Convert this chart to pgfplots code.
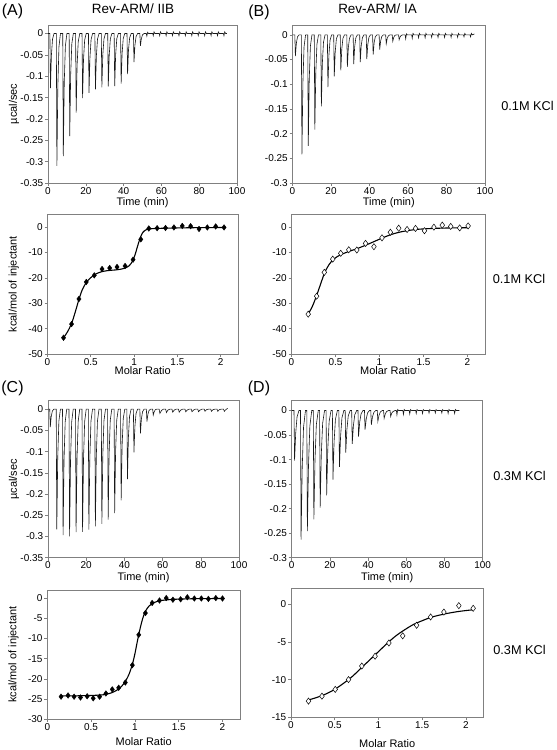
\documentclass[border=0pt]{standalone}
\usepackage{fontspec}
\setmainfont{Liberation Sans}
\usepackage{pgfplots}
\pgfplotsset{compat=1.18}
\definecolor{framegray}{gray}{0.5}
\pgfplotsset{
  base/.style={scale only axis, axis line style={framegray, line width=0.8bp},
    tick style={framegray, line width=0.6bp}, tick align=outside, tick pos=left,
    major tick length=3bp, /pgf/number format/assume math mode=true,
    tick label style={font=\fontsize{10}{11}\selectfont, inner sep=0.6bp},
    xticklabel style={yshift=-0.5bp}, yticklabel style={xshift=-1bp},
    label style={font=\fontsize{11}{12}\selectfont, inner sep=0bp}, scaled ticks=false},
  thermo/.style={base, xmin=0, xmax=100, xtick={0,20,40,60,80,100},
    xlabel={Time (min)}, xlabel style={at={(axis description cs:0.5,0)}, anchor=center, yshift=-20bp}},
  iso/.style={base, xmin=0, xmax=2.2, xtick={0,0.5,1,1.5,2}, xticklabels={0,0.5,1,1.5,2},
    xlabel={Molar Ratio}},
  trace/.style={black!90, line width=0.6bp},
  fit/.style={black, line width=1.1bp, smooth, tension=0.5},
  fullmark/.style={only marks, mark=diamond*, mark size=2.8bp, black},
  openmark/.style={only marks, mark=diamond*, mark size=3.1bp, mark options={fill=white, draw=black, line width=0.5bp}},
}
\begin{document}
\begin{tikzpicture}
\path[use as bounding box] (0,0) rectangle (557bp,-750bp);

% ---------------- (A) top: thermogram
\begin{axis}[thermo, at={(48bp,-25bp)}, anchor=north west, width=189bp, height=158bp,
  ymin=-0.35, ymax=0.02, ytick={-0.35,-0.3,-0.25,-0.2,-0.15,-0.1,-0.05,0},
  yticklabels={-0.35,-0.3,-0.25,-0.2,-0.15,-0.1,-0.05,0},
  ylabel={µcal/sec}, ylabel style={at={(axis description cs:-0.18,0.5)}, anchor=center}]
\addplot[trace] coordinates {
(0,0)
(1.0,0)(1.3,-0.128)(1.8,-0.051)(2.4,-0.013)(3.2,0)
(4.4,0)(4.7,-0.310)(5.2,-0.124)(5.8,-0.031)(6.6,0)
(7.8,0)(8.1,-0.287)(8.6,-0.115)(9.2,-0.029)(10.0,0)
(11.2,0)(11.5,-0.240)(12.0,-0.096)(12.6,-0.024)(13.4,0)
(14.6,0)(14.9,-0.185)(15.4,-0.074)(16.0,-0.019)(16.8,0)
(18.0,0)(18.3,-0.151)(18.8,-0.060)(19.4,-0.015)(20.2,0)
(21.4,0)(21.7,-0.139)(22.2,-0.056)(22.8,-0.014)(23.6,0)
(24.8,0)(25.1,-0.131)(25.6,-0.052)(26.2,-0.013)(27.0,0)
(28.2,0)(28.5,-0.126)(29.0,-0.050)(29.6,-0.013)(30.4,0)
(31.6,0)(31.9,-0.124)(32.4,-0.050)(33.0,-0.012)(33.8,0)
(35.0,0)(35.3,-0.123)(35.8,-0.049)(36.4,-0.012)(37.2,0)
(38.4,0)(38.7,-0.117)(39.2,-0.047)(39.8,-0.012)(40.6,0)
(41.8,0)(42.1,-0.095)(42.6,-0.038)(43.2,-0.010)(44.0,0)
(45.2,0)(45.5,-0.067)(46.0,-0.027)(46.6,-0.007)(47.4,0)
(48.6,0)(48.9,-0.029)(49.4,-0.012)(50.0,-0.003)(50.8,0)
(52.0,0)(52.3,-0.006)(52.7,0.003)(53.2,0)
(55.4,0)(55.7,-0.005)(56.1,0.004)(56.6,0)
(58.8,0)(59.1,-0.005)(59.5,0.004)(60.0,0)
(62.2,0)(62.5,-0.005)(62.9,0.004)(63.4,0)
(65.6,0)(65.9,-0.005)(66.3,0.004)(66.8,0)
(69.0,0)(69.3,-0.005)(69.7,0.004)(70.2,0)
(72.4,0)(72.7,-0.005)(73.1,0.004)(73.6,0)
(75.8,0)(76.1,-0.005)(76.5,0.004)(77.0,0)
(79.2,0)(79.5,-0.005)(79.9,0.004)(80.4,0)
(82.6,0)(82.9,-0.005)(83.3,0.004)(83.8,0)
(86.0,0)(86.3,-0.005)(86.7,0.004)(87.2,0)
(89.4,0)(89.7,-0.005)(90.1,0.004)(90.6,0)
(92.8,0)(93.1,-0.005)(93.5,0.004)(94.0,0)(94.6,0)
};
\end{axis}

% ---------------- (B) top: thermogram
\begin{axis}[thermo, at={(292.5bp,-25bp)}, anchor=north west, width=192.5bp, height=158bp,
  ymin=-0.3, ymax=0.02, ytick={-0.3,-0.25,-0.2,-0.15,-0.1,-0.05,0},
  yticklabels={-0.3,-0.25,-0.2,-0.15,-0.1,-0.05,0}]
\addplot[trace] coordinates {
(0,0)
(1.2,0)(1.5,-0.043)(2.0,-0.017)(2.6,-0.004)(3.4,0)
(4.6,0)(4.9,-0.242)(5.4,-0.097)(6.0,-0.024)(6.8,0)
(7.9,0)(8.2,-0.225)(8.7,-0.090)(9.3,-0.023)(10.1,0)
(11.3,0)(11.6,-0.192)(12.1,-0.077)(12.7,-0.019)(13.5,0)
(14.7,0)(15.0,-0.145)(15.5,-0.058)(16.1,-0.015)(16.9,0)
(18.1,0)(18.4,-0.106)(18.9,-0.042)(19.5,-0.011)(20.3,0)
(21.4,0)(21.7,-0.084)(22.2,-0.034)(22.8,-0.008)(23.6,0)
(24.8,0)(25.1,-0.072)(25.6,-0.029)(26.2,-0.007)(27.0,0)
(28.2,0)(28.5,-0.065)(29.0,-0.026)(29.6,-0.007)(30.4,0)
(31.5,0)(31.8,-0.059)(32.3,-0.024)(32.9,-0.006)(33.7,0)
(34.9,0)(35.2,-0.055)(35.7,-0.022)(36.3,-0.006)(37.1,0)
(38.3,0)(38.6,-0.049)(39.1,-0.020)(39.7,-0.005)(40.5,0)
(41.6,0)(41.9,-0.040)(42.4,-0.016)(43.0,-0.004)(43.8,0)
(45.0,0)(45.3,-0.030)(45.8,-0.012)(46.4,-0.003)(47.2,0)
(48.4,0)(48.7,-0.018)(49.2,-0.007)(49.8,-0.002)(50.6,0)
(51.8,0)(52.1,-0.013)(52.6,-0.005)(53.2,-0.001)(54.0,0)
(55.1,0)(55.4,-0.010)(55.9,-0.004)(56.5,-0.001)(57.3,0)
(58.5,0)(58.8,-0.008)(59.2,0.002)(59.7,0)
(61.9,0)(62.2,-0.007)(62.6,0.003)(63.1,0)
(65.2,0)(65.5,-0.006)(65.9,0.003)(66.4,0)
(68.6,0)(68.9,-0.006)(69.3,0.003)(69.8,0)
(72.0,0)(72.3,-0.005)(72.7,0.003)(73.2,0)
(75.3,0)(75.6,-0.005)(76.0,0.003)(76.5,0)
(78.7,0)(79.0,-0.005)(79.4,0.003)(79.9,0)
(82.1,0)(82.4,-0.005)(82.8,0.003)(83.3,0)
(85.5,0)(85.8,-0.005)(86.2,0.003)(86.7,0)
(88.8,0)(89.1,-0.004)(89.5,0.003)(90.0,0)
(92.2,0)(92.5,-0.004)(92.9,0.003)(93.4,0)(94.5,0.002)
};
\end{axis}

% ---------------- (A) bottom: isotherm
\begin{axis}[iso, at={(47.5bp,-214.5bp)}, anchor=north west, width=190.5bp, height=139.5bp,
  ymin=-50, ymax=5, ytick={-50,-40,-30,-20,-10,0},
  ylabel={kcal/mol of injectant}, ylabel style={at={(axis description cs:-0.177,0.5)}, anchor=center},
  xlabel style={at={(axis description cs:0.5,0)}, anchor=center, yshift=-16.5bp}]
\addplot[fit] coordinates {
(0.185,-43.6)(0.23,-41.3)(0.278,-38)(0.32,-33.5)(0.363,-28.5)(0.40,-24.8)(0.448,-21.8)
(0.50,-19.9)(0.55,-18.6)(0.62,-17.6)(0.70,-17.1)(0.80,-16.8)(0.88,-16.3)(0.94,-15.3)
(0.98,-13.5)(1.01,-11)(1.04,-7.5)(1.07,-4.3)(1.10,-2.1)(1.14,-1.0)(1.2,-0.6)(1.3,-0.45)
(1.5,-0.3)(1.7,-0.2)(1.9,-0.15)(2.04,-0.1)
};
\addplot[fullmark] coordinates {
(0.185,-43.6)(0.278,-38.2)(0.363,-28.3)(0.448,-21.6)(0.54,-19.0)(0.63,-16.5)(0.718,-16.1)
(0.803,-15.7)(0.896,-15.3)(0.988,-12.8)(1.077,-4.8)(1.17,-0.5)(1.266,-0.4)(1.363,-0.3)
(1.46,-0.1)(1.556,0.5)(1.653,0.4)(1.75,-0.7)(1.846,-0.1)(1.942,0.3)(2.039,-0.1)
};
\end{axis}

% ---------------- (B) bottom: isotherm
\begin{axis}[iso, at={(291.5bp,-214.5bp)}, anchor=north west, width=193.5bp, height=139.5bp,
  ymin=-50, ymax=5, ytick={-50,-40,-30,-20,-10,0},
  xlabel style={at={(axis description cs:0.5,0)}, anchor=center, yshift=-16.5bp}]
\addplot[fit] coordinates {
(0.19,-34.3)(0.24,-31)(0.29,-26.5)(0.34,-21.5)(0.38,-17.7)(0.43,-14.6)(0.48,-12.6)
(0.55,-11.0)(0.65,-9.6)(0.75,-8.4)(0.85,-7.0)(0.95,-5.5)(1.05,-4.0)(1.15,-2.7)
(1.25,-1.8)(1.35,-1.2)(1.45,-0.8)(1.6,-0.5)(1.8,-0.3)(2.01,-0.2)
};
\addplot[openmark] coordinates {
(0.19,-34.3)(0.286,-27.2)(0.373,-17.8)(0.469,-12.6)(0.56,-10.3)(0.651,-8.9)(0.743,-9.0)
(0.842,-6.4)(0.937,-7.7)(1.029,-4.2)(1.124,-2.0)(1.219,-0.4)(1.314,-0.9)(1.41,-0.5)
(1.512,-1.4)(1.619,0)(1.714,0.8)(1.81,0.3)(1.912,-0.3)(2.008,0.5)
};
\end{axis}

% ---------------- (C) top: thermogram
\begin{axis}[thermo, at={(48bp,-400.7bp)}, anchor=north west, width=191bp, height=157bp,
  ymin=-0.35, ymax=0.02, ytick={-0.35,-0.3,-0.25,-0.2,-0.15,-0.1,-0.05,0},
  yticklabels={-0.35,-0.3,-0.25,-0.2,-0.15,-0.1,-0.05,0},
  ylabel={µcal/sec}, ylabel style={at={(axis description cs:-0.178,0.5)}, anchor=center}]
\addplot[trace] coordinates {
(0,0)
(0.9,0)(1.2,-0.042)(1.7,-0.017)(2.3,-0.004)(3.1,0)
(4.3,0)(4.6,-0.283)(5.1,-0.113)(5.7,-0.028)(6.5,0)
(7.6,0)(7.9,-0.297)(8.4,-0.119)(9.0,-0.030)(9.8,0)
(11.0,0)(11.3,-0.300)(11.8,-0.120)(12.4,-0.030)(13.2,0)
(14.4,0)(14.7,-0.290)(15.2,-0.116)(15.8,-0.029)(16.6,0)
(17.8,0)(18.1,-0.289)(18.6,-0.116)(19.2,-0.029)(20.0,0)
(21.1,0)(21.4,-0.284)(21.9,-0.114)(22.5,-0.028)(23.3,0)
(24.5,0)(24.8,-0.276)(25.3,-0.110)(25.9,-0.028)(26.7,0)
(27.9,0)(28.2,-0.270)(28.7,-0.108)(29.3,-0.027)(30.1,0)
(31.2,0)(31.5,-0.260)(32.0,-0.104)(32.6,-0.026)(33.4,0)
(34.6,0)(34.9,-0.245)(35.4,-0.098)(36.0,-0.025)(36.8,0)
(38.0,0)(38.3,-0.215)(38.8,-0.086)(39.4,-0.022)(40.2,0)
(41.3,0)(41.6,-0.165)(42.1,-0.066)(42.7,-0.017)(43.5,0)
(44.7,0)(45.0,-0.102)(45.5,-0.041)(46.1,-0.010)(46.9,0)
(48.1,0)(48.4,-0.057)(48.9,-0.023)(49.5,-0.006)(50.3,0)
(51.5,0)(51.8,-0.029)(52.3,-0.012)(52.9,-0.003)(53.7,0)
(54.8,0)(55.1,-0.014)(55.6,-0.006)(56.2,-0.001)(57.0,0)
(58.2,0)(58.6,-0.010)(59.4,-0.003)(60.4,0)
(61.6,0)(62.0,-0.008)(62.8,-0.002)(63.8,0)
(64.9,0)(65.3,-0.007)(66.1,-0.002)(67.1,0)
(68.3,0)(68.7,-0.007)(69.5,-0.002)(70.5,0)
(71.7,0)(72.1,-0.006)(72.9,-0.002)(73.9,0)
(75.0,0)(75.4,-0.006)(76.2,-0.002)(77.2,0)
(78.4,0)(78.8,-0.006)(79.6,-0.002)(80.6,0)
(81.8,0)(82.2,-0.005)(83.0,-0.001)(84.0,0)
(85.2,0)(85.6,-0.005)(86.4,-0.001)(87.4,0)
(88.5,0)(88.9,-0.005)(89.7,-0.001)(90.7,0)
(91.9,0)(92.3,-0.005)(93.1,-0.001)(94.1,0.002)
};
\end{axis}

% ---------------- (D) top: thermogram
\begin{axis}[thermo, at={(291.7bp,-400.7bp)}, anchor=north west, width=191bp, height=157bp,
  ymin=-0.3, ymax=0.02, ytick={-0.3,-0.25,-0.2,-0.15,-0.1,-0.05,0},
  yticklabels={-0.3,-0.25,-0.2,-0.15,-0.1,-0.05,0}]
\addplot[trace] coordinates {
(0,0)
(1.2,0)(1.5,-0.102)(2.1,-0.046)(2.8,-0.013)(3.8,0)
(4.6,0)(4.9,-0.263)(5.5,-0.118)(6.2,-0.034)(7.2,0)
(7.9,0)(8.2,-0.246)(8.8,-0.111)(9.5,-0.032)(10.5,0)
(11.3,0)(11.6,-0.222)(12.2,-0.100)(12.9,-0.029)(13.9,0)
(14.6,0)(14.9,-0.198)(15.5,-0.089)(16.2,-0.026)(17.2,0)
(18.0,0)(18.3,-0.173)(18.9,-0.078)(19.6,-0.022)(20.6,0)
(21.3,0)(21.6,-0.141)(22.2,-0.063)(22.9,-0.018)(23.9,0)
(24.7,0)(25.0,-0.115)(25.6,-0.052)(26.3,-0.015)(27.3,0)
(28.0,0)(28.3,-0.086)(28.9,-0.039)(29.6,-0.011)(30.6,0)
(31.4,0)(31.7,-0.068)(32.3,-0.031)(33.0,-0.009)(34.0,0)
(34.7,0)(35.0,-0.053)(35.6,-0.024)(36.3,-0.007)(37.3,0)
(38.1,0)(38.4,-0.039)(39.0,-0.018)(39.7,-0.005)(40.7,0)
(41.4,0)(41.7,-0.029)(42.3,-0.013)(43.0,-0.004)(44.0,0)
(44.8,0)(45.1,-0.022)(45.7,-0.010)(46.4,-0.003)(47.4,0)
(48.1,0)(48.4,-0.016)(49.0,-0.007)(49.7,-0.002)(50.7,0)
(51.5,0)(51.8,-0.012)(52.4,-0.005)(53.1,-0.002)(54.1,0)
(54.8,0)(55.1,-0.009)(55.5,0.002)(56.0,0)
(58.2,0)(58.5,-0.008)(58.9,0.002)(59.4,0)
(61.5,0)(61.8,-0.007)(62.2,0.002)(62.7,0)
(64.9,0)(65.2,-0.006)(65.6,0.002)(66.1,0)
(68.2,0)(68.5,-0.006)(68.9,0.002)(69.4,0)
(71.6,0)(71.9,-0.005)(72.3,0.002)(72.8,0)
(74.9,0)(75.2,-0.005)(75.6,0.002)(76.1,0)
(78.3,0)(78.6,-0.005)(79.0,0.002)(79.5,0)
(81.6,0)(81.9,-0.006)(82.3,0.002)(82.8,0)
(85.0,0)(85.3,-0.006)(85.7,0.002)(86.2,0)(87.8,0)
};
\end{axis}

% ---------------- (C) bottom: isotherm
\begin{axis}[iso, at={(47.3bp,-590bp)}, anchor=north west, width=192.7bp, height=129.3bp,
  ymin=-30, ymax=2, ytick={-30,-25,-20,-15,-10,-5,0},
  ylabel={kcal/mol of injectant}, ylabel style={at={(axis description cs:-0.175,0.5)}, anchor=center},
  xlabel style={at={(axis description cs:0.5,0)}, anchor=center, yshift=-22bp}]
\addplot[fit] coordinates {
(0.157,-24.2)(0.3,-24.2)(0.5,-24.1)(0.65,-23.9)(0.75,-23.3)(0.82,-22.4)(0.88,-21)
(0.93,-19)(0.97,-16.5)(1.0,-13.8)(1.03,-10.5)(1.06,-7.5)(1.09,-5)(1.12,-3.3)
(1.16,-2)(1.22,-1.1)(1.3,-0.6)(1.45,-0.3)(1.7,-0.15)(2.0,-0.1)
};
\addplot[fullmark] coordinates {
(0.157,-24.4)(0.237,-24.1)(0.306,-24.4)(0.379,-24.6)(0.455,-24.3)(0.524,-24.8)(0.597,-24.4)
(0.669,-23.6)(0.742,-22.6)(0.815,-22.2)(0.891,-20.9)(0.971,-16.6)(1.044,-9.1)(1.12,-3.7)
(1.197,-1.2)(1.281,-0.6)(1.358,0)(1.434,-0.4)(1.522,-0.3)(1.599,0.2)(1.679,-0.1)
(1.759,-0.1)(1.839,-0.2)(1.924,0)(2.0,-0.1)
};
\end{axis}

% ---------------- (D) bottom: isotherm
\begin{axis}[iso, at={(291bp,-588.3bp)}, anchor=north west, width=192.3bp, height=129bp,
  ymin=-15, ymax=2.1, ytick={-15,-10,-5,0},
  xlabel style={at={(axis description cs:0.5,0)}, anchor=center, yshift=-26bp}]
\addplot[fit] coordinates {
(0.2,-12.7)(0.3,-12.35)(0.4,-11.9)(0.5,-11.3)(0.6,-10.5)(0.7,-9.6)(0.8,-8.5)(0.9,-7.4)
(1.0,-6.3)(1.1,-5.2)(1.2,-4.2)(1.3,-3.4)(1.4,-2.7)(1.5,-2.2)(1.6,-1.75)(1.7,-1.45)
(1.8,-1.2)(1.9,-1.0)(2.0,-0.85)(2.084,-0.75)
};
\addplot[openmark] coordinates {
(0.2,-12.85)(0.354,-12.2)(0.506,-11.3)(0.658,-10.0)(0.81,-8.2)(0.962,-6.9)(1.12,-5.15)
(1.278,-4.2)(1.437,-2.8)(1.597,-1.7)(1.749,-1.05)(1.92,-0.2)(2.084,-0.55)
};
\end{axis}

% ---------------- titles and annotations
\node[font=\fontsize{16}{18}\selectfont] at (12.5bp,-11.5bp) {(A)};
\node[font=\fontsize{16}{18}\selectfont] at (259bp,-12bp) {(B)};
\node[font=\fontsize{16}{18}\selectfont] at (12.5bp,-388bp) {(C)};
\node[font=\fontsize{16}{18}\selectfont] at (259bp,-388bp) {(D)};
\node[font=\fontsize{13.5}{15}\selectfont] at (133bp,-8.5bp) {Rev-ARM/ IIB};
\node[font=\fontsize{13.5}{15}\selectfont] at (377.5bp,-8.5bp) {Rev-ARM/ IA};
\node[font=\fontsize{12.8}{14}\selectfont] at (527.5bp,-106bp) {0.1M KCl};
\node[font=\fontsize{12.8}{14}\selectfont] at (519bp,-279bp) {0.1M KCl};
\node[font=\fontsize{12.8}{14}\selectfont] at (519.5bp,-476bp) {0.3M KCl};
\node[font=\fontsize{12.8}{14}\selectfont] at (519.5bp,-650bp) {0.3M KCl};
\end{tikzpicture}
\end{document}
